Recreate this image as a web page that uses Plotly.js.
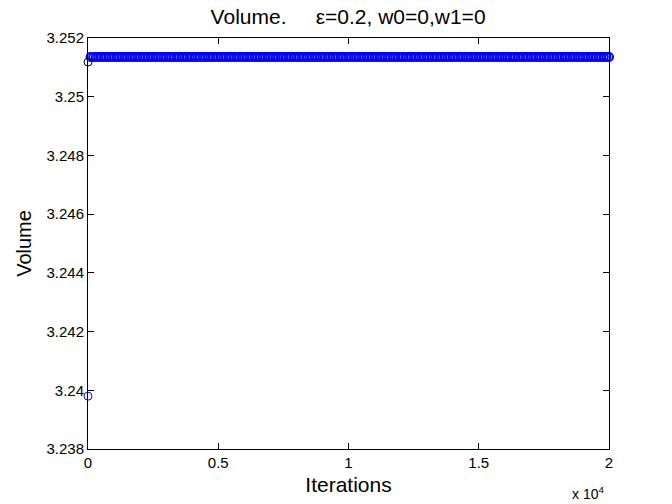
<!DOCTYPE html>
<html>
<head>
<meta charset="utf-8">
<script src="https://cdn.plot.ly/plotly-3.0.1.min.js"></script>
<style>html,body{margin:0;padding:0;background:#fff;}#chart{width:672px;height:504px;}</style>
</head>
<body>
<div id="chart"></div>
<script>
// Iteration numbers (sampled every 100 iterations)
const iterations = [0,100,200,300,400,500,600,700,800,900,1000,1100,1200,1300,1400,1500,1600,1700,1800,1900,2000,2100,2200,2300,2400,2500,2600,2700,2800,2900,3000,3100,3200,3300,3400,3500,3600,3700,3800,3900,4000,4100,4200,4300,4400,4500,4600,4700,4800,4900,5000,5100,5200,5300,5400,5500,5600,5700,5800,5900,6000,6100,6200,6300,6400,6500,6600,6700,6800,6900,7000,7100,7200,7300,7400,7500,7600,7700,7800,7900,8000,8100,8200,8300,8400,8500,8600,8700,8800,8900,9000,9100,9200,9300,9400,9500,9600,9700,9800,9900,10000,10100,10200,10300,10400,10500,10600,10700,10800,10900,11000,11100,11200,11300,11400,11500,11600,11700,11800,11900,12000,12100,12200,12300,12400,12500,12600,12700,12800,12900,13000,13100,13200,13300,13400,13500,13600,13700,13800,13900,14000,14100,14200,14300,14400,14500,14600,14700,14800,14900,15000,15100,15200,15300,15400,15500,15600,15700,15800,15900,16000,16100,16200,16300,16400,16500,16600,16700,16800,16900,17000,17100,17200,17300,17400,17500,17600,17700,17800,17900,18000,18100,18200,18300,18400,18500,18600,18700,18800,18900,19000,19100,19200,19300,19400,19500,19600,19700,19800,19900,20000];
// Volume values
const volume = [3.2398,3.25135,3.25135,3.25135,3.25135,3.25135,3.25135,3.25135,3.25135,3.25135,3.25135,3.25135,3.25135,3.25135,3.25135,3.25135,3.25135,3.25135,3.25135,3.25135,3.25135,3.25135,3.25135,3.25135,3.25135,3.25135,3.25135,3.25135,3.25135,3.25135,3.25135,3.25135,3.25135,3.25135,3.25135,3.25135,3.25135,3.25135,3.25135,3.25135,3.25135,3.25135,3.25135,3.25135,3.25135,3.25135,3.25135,3.25135,3.25135,3.25135,3.25135,3.25135,3.25135,3.25135,3.25135,3.25135,3.25135,3.25135,3.25135,3.25135,3.25135,3.25135,3.25135,3.25135,3.25135,3.25135,3.25135,3.25135,3.25135,3.25135,3.25135,3.25135,3.25135,3.25135,3.25135,3.25135,3.25135,3.25135,3.25135,3.25135,3.25135,3.25135,3.25135,3.25135,3.25135,3.25135,3.25135,3.25135,3.25135,3.25135,3.25135,3.25135,3.25135,3.25135,3.25135,3.25135,3.25135,3.25135,3.25135,3.25135,3.25135,3.25135,3.25135,3.25135,3.25135,3.25135,3.25135,3.25135,3.25135,3.25135,3.25135,3.25135,3.25135,3.25135,3.25135,3.25135,3.25135,3.25135,3.25135,3.25135,3.25135,3.25135,3.25135,3.25135,3.25135,3.25135,3.25135,3.25135,3.25135,3.25135,3.25135,3.25135,3.25135,3.25135,3.25135,3.25135,3.25135,3.25135,3.25135,3.25135,3.25135,3.25135,3.25135,3.25135,3.25135,3.25135,3.25135,3.25135,3.25135,3.25135,3.25135,3.25135,3.25135,3.25135,3.25135,3.25135,3.25135,3.25135,3.25135,3.25135,3.25135,3.25135,3.25135,3.25135,3.25135,3.25135,3.25135,3.25135,3.25135,3.25135,3.25135,3.25135,3.25135,3.25135,3.25135,3.25135,3.25135,3.25135,3.25135,3.25135,3.25135,3.25135,3.25135,3.25135,3.25135,3.25135,3.25135,3.25135,3.25135,3.25135,3.25135,3.25135,3.25135,3.25135,3.25135,3.25135,3.25135,3.25135,3.25135,3.25135,3.25135];
// Reference (initial) point
const refX = [0];
const refY = [3.25118];

const xTickVals = [0,5000,10000,15000,20000];
const xTickText = ['0','0.5','1','1.5','2'];
const yTickVals = [3.238,3.240,3.242,3.244,3.246,3.248,3.250,3.252];
const yTickText = ['3.238','3.24','3.242','3.244','3.246','3.248','3.25','3.252'];

const font = 'Liberation Sans, Arial, sans-serif';

// Style only: the isolated first point is drawn with a thin ring, the dense band with a heavier one
const ringWidths = iterations.map((_, i) => i === 0 ? 1 : 2);

const traces = [
  {x: iterations, y: volume, type: 'scatter', mode: 'markers', cliponaxis: false,
   marker: {symbol: 'circle-open', size: 8, color: '#0000ff', line: {width: ringWidths, color: '#0000ff'}}, hoverinfo: 'none'},
  {x: refX, y: refY, type: 'scatter', mode: 'markers', cliponaxis: false,
   marker: {symbol: 'circle-open', size: 8, color: '#000000', line: {width: 1, color: '#000000'}}, hoverinfo: 'none'}
];

const axisCommon = {
  showgrid: false, zeroline: false, showline: true, linecolor: '#000', linewidth: 1,
  mirror: 'ticks', ticks: 'inside', ticklen: 6, tickcolor: '#000', tickwidth: 1,
  tickfont: {family: font, size: 15, color: '#000'}
};

const layout = {
  width: 672, height: 504,
  margin: {l: 88, r: 63, t: 38, b: 55},
  paper_bgcolor: '#fff', plot_bgcolor: '#fff',
  showlegend: false,
  title: {text: 'Volume.\u00a0\u00a0\u00a0\u00a0\u00a0ε=0.2, w0=0,w1=0', font: {family: font, size: 21, color: '#000'},
          x: 0.518, xanchor: 'center', y: 0.966, yanchor: 'middle'},
  xaxis: Object.assign({}, axisCommon, {
    range: [0, 20000], tickmode: 'array', tickvals: xTickVals, ticktext: xTickText,
    title: {text: 'Iterations', font: {family: font, size: 21, color: '#000'}, standoff: 7}
  }),
  yaxis: Object.assign({}, axisCommon, {
    range: [3.238, 3.252], tickmode: 'array', tickvals: yTickVals, ticktext: yTickText,
    title: {text: 'Volume', font: {family: font, size: 20, color: '#000'}, standoff: 9}
  }),
  annotations: [
    {xref: 'paper', yref: 'paper', x: 0.925, y: -0.106, xanchor: 'left', yanchor: 'middle', showarrow: false,
     text: 'x 10<sup>4</sup>', font: {family: font, size: 14, color: '#000'}}
  ]
};

Plotly.newPlot('chart', traces, layout, {displayModeBar: false, staticPlot: true});
</script>
</body>
</html>
